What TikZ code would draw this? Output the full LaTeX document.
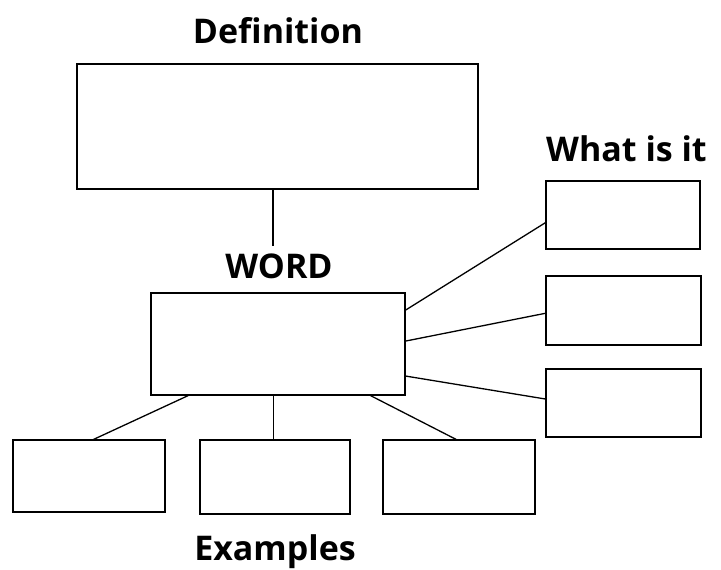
\documentclass[tikz,border=0pt]{standalone}
\usepackage{fontspec}
\setmainfont{Open Sans}
\begin{document}
\begin{tikzpicture}[x=1pt,y=-1pt,
  box/.style={draw=black,line width=1.3pt,rectangle,inner sep=0pt},
  lbl/.style={font=\bfseries\fontsize{34}{40}\selectfont,inner sep=0pt,anchor=base},
  conn/.style={draw=black,line width=1.3pt}]
\useasboundingbox (0,0) rectangle (721,570);
% boxes
\node[box,minimum width=401pt,minimum height=125pt] (def) at (277.5,126.5) {};
\node[box,minimum width=254pt,minimum height=102pt] (word) at (278,344) {};
\node[box,minimum width=154pt,minimum height=68pt] (r1) at (623,215) {};
\node[box,minimum width=155pt,minimum height=69pt] (r2) at (623.5,310.5) {};
\node[box,minimum width=155pt,minimum height=68pt] (r3) at (623.5,403) {};
\node[box,minimum width=152pt,minimum height=72pt] (b1) at (89,476) {};
\node[box,minimum width=150pt,minimum height=74pt] (b2) at (275,477) {};
\node[box,minimum width=152pt,minimum height=74pt] (b3) at (459,477) {};
% labels
\node[lbl] (deflbl) at (278,43) {Definition};
\node[lbl] (wordlbl) at (279,278) {WORD};
\node[lbl,anchor=base west] (whatlbl) at (546,161) {What is it};
\node[lbl] (exlbl) at (275,560) {Examples};
% connectors
\coordinate (c1) at (273,246);
\draw[conn] (def.south -| c1) -- (c1);
\draw[conn] ([yshift=-17.7pt]word.north east) -- ([yshift=-7.7pt]r1.west);
\draw[conn] ([yshift=-48.7pt]word.north east) -- ([yshift=-2.8pt]r2.west);
\draw[conn] ([yshift=-83.7pt]word.north east) -- ([yshift=4pt]r3.west);
\draw[conn] ([xshift=37.7pt]word.south west) -- ([xshift=4.7pt]b1.north);
\draw[conn] ([xshift=-1.2pt]b2.north |- word.south) -- ([xshift=-1.2pt]b2.north);
\draw[conn] ([xshift=-35pt]word.south east) -- ([xshift=-3pt]b3.north);
\end{tikzpicture}
\end{document}
